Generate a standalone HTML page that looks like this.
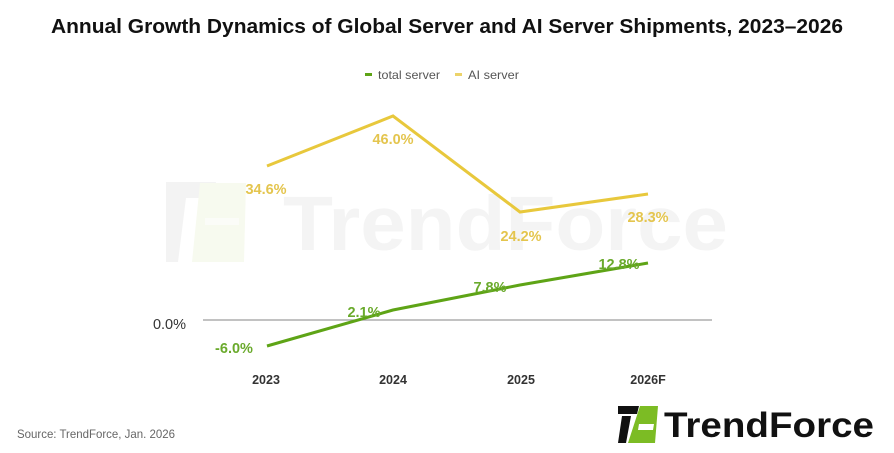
<!DOCTYPE html>
<html><head><meta charset="utf-8"><style>
html,body{margin:0;padding:0;background:#fff;}
svg{display:block;}
</style></head><body>
<svg width="894" height="453" viewBox="0 0 894 453" xmlns="http://www.w3.org/2000/svg" font-family="Liberation Sans, sans-serif">
<rect width="894" height="453" fill="#fff"/>
<!-- watermark -->
<g>
<polygon points="166,182 216,182 213,198 186,198 178,262 166,262 166,256" fill="#f3f3f3"/>
<polygon points="200,183 246,183 244,262 192,262" fill="#f7faef"/>
<rect x="205" y="218" width="34" height="7" fill="#fbfcf8"/>
<text x="283" y="250" font-size="77" font-weight="bold" fill="#f4f4f4" textLength="445" lengthAdjust="spacingAndGlyphs">TrendForce</text>
</g>
<!-- title -->
<text x="447" y="33" font-size="20" font-weight="bold" fill="#111" text-anchor="middle" textLength="792" lengthAdjust="spacingAndGlyphs">Annual Growth Dynamics of Global Server and AI Server Shipments, 2023–2026</text>
<!-- legend -->
<rect x="365" y="73" width="7" height="3" fill="#5ea416"/>
<text x="378" y="79" font-size="12" fill="#555" textLength="62" lengthAdjust="spacingAndGlyphs">total server</text>
<rect x="455" y="73" width="7" height="3" fill="#ecd36a"/>
<text x="468" y="79" font-size="12" fill="#555" textLength="51" lengthAdjust="spacingAndGlyphs">AI server</text>
<!-- zero line -->
<line x1="203" y1="320" x2="712" y2="320" stroke="#9e9e9e" stroke-width="1.2"/>
<text x="186" y="329" font-size="14.5" fill="#333" text-anchor="end">0.0%</text>
<!-- lines -->
<polyline points="267,166 393,116 520,212 648,194" fill="none" stroke="#e8c83c" stroke-width="3" stroke-linejoin="miter"/>
<polyline points="267,346 393,310 520,285 648,263" fill="none" stroke="#5ea416" stroke-width="3"/>
<!-- yellow labels -->
<g font-size="14.5" font-weight="bold" fill="#e4c54e" text-anchor="middle">
<text x="266" y="194">34.6%</text>
<text x="393" y="144">46.0%</text>
<text x="521" y="241">24.2%</text>
<text x="648" y="222">28.3%</text>
</g>
<!-- green labels -->
<g font-size="14.5" font-weight="bold" fill="#6aaa2c" text-anchor="middle">
<text x="234" y="353">-6.0%</text>
<text x="364" y="317">2.1%</text>
<text x="490" y="292">7.8%</text>
<text x="619" y="269">12.8%</text>
</g>
<!-- x labels -->
<g font-size="12.5" font-weight="bold" fill="#333" text-anchor="middle">
<text x="266" y="384">2023</text>
<text x="393" y="384">2024</text>
<text x="521" y="384">2025</text>
<text x="648" y="384">2026F</text>
</g>
<!-- source -->
<text x="17" y="438" font-size="12" fill="#666" textLength="158" lengthAdjust="spacingAndGlyphs">Source: TrendForce, Jan. 2026</text>
<!-- logo -->
<polygon points="618,406 639,406 637,414 618,414" fill="#111"/>
<polygon points="622,416 631,416 626,443 618,443" fill="#111"/>
<polygon points="640,406 658,406 655,443 628,443" fill="#7cbc24"/>
<polygon points="639,424 654,424 653,430 638,430" fill="#fff"/>
<text x="664" y="437" font-size="35" font-weight="bold" fill="#111" textLength="210" lengthAdjust="spacingAndGlyphs">TrendForce</text>
</svg>
</body></html>
